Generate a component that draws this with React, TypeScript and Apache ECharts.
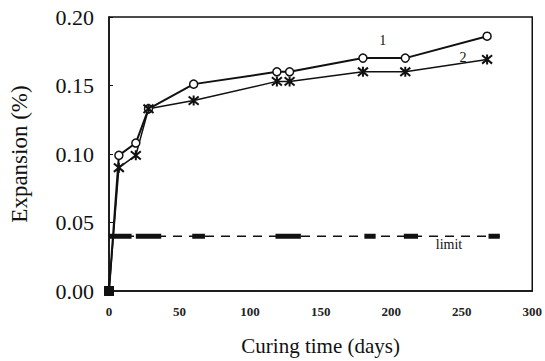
import React, { useEffect, useRef } from "react";
import * as echarts from "echarts";

const days1 = [0, 7, 19, 28, 60, 119, 128, 180, 210, 268];
const expansion1 = [0, 0.099, 0.108, 0.133, 0.151, 0.16, 0.16, 0.17, 0.17, 0.186];
const days2 = [0, 7, 19, 28, 60, 119, 128, 180, 210, 268];
const expansion2 = [0, 0.09, 0.099, 0.133, 0.139, 0.153, 0.153, 0.16, 0.16, 0.169];
const limitValue = 0.04;
const limitRange = [0, 277];
const limitThickSegments = [
  [0, 16], [19, 37], [59, 68], [118, 136], [181, 189], [209, 219], [269, 277],
];
const yTicks = [0, 0.05, 0.1, 0.15, 0.2];
const xTicks = [0, 50, 100, 150, 200, 250, 300];
const annotations = [
  { day: 194, value: 0.183, text: "1" },
  { day: 251, value: 0.171, text: "2" },
  { day: 241, value: 0.034, text: "limit" },
];

export default function App() {
  const ref = useRef<HTMLDivElement>(null);
  useEffect(() => {
    if (!ref.current) return;
    const chart = echarts.init(ref.current, undefined, { renderer: "svg" });
    const thickData: any[] = [];
    limitThickSegments.forEach((s, i) => {
      if (i > 0) thickData.push([s[0], "-"]);
      thickData.push([s[0], limitValue]);
      thickData.push([s[1], limitValue]);
    });
    const font = "Liberation Serif";
    chart.setOption({
      animation: false,
      backgroundColor: "#fff",
      grid: {
        left: 108, right: 11, top: 17, bottom: 69,
        show: true, borderColor: "#111", borderWidth: 1.5,
      },
      xAxis: {
        type: "value", min: 0, max: 300, interval: 50,
        name: "Curing time (days)", nameLocation: "middle", nameGap: 44,
        nameTextStyle: { fontFamily: font, fontSize: 21, color: "#111" },
        axisLine: { show: true, lineStyle: { color: "#111", width: 1.5 } },
        axisTick: { show: false },
        splitLine: { show: false },
        axisLabel: {
          fontFamily: font, fontSize: 13, fontWeight: "bold", color: "#222", margin: 14,
          formatter: (v: number) => (xTicks.includes(v) ? String(v) : ""),
        },
      },
      yAxis: {
        type: "value", min: 0, max: 0.2, interval: 0.05,
        name: "Expansion (%)", nameLocation: "middle", nameGap: 78,
        nameTextStyle: { fontFamily: font, fontSize: 23, color: "#111" },
        axisLine: { show: true, lineStyle: { color: "#111", width: 1.5 } },
        axisTick: { show: true, inside: true, length: 4, lineStyle: { color: "#111" } },
        splitLine: { show: false },
        axisLabel: {
          fontFamily: font, fontSize: 22, color: "#111", margin: 15,
          formatter: (v: number) => (yTicks.some((t) => Math.abs(t - v) < 1e-9) ? v.toFixed(2) : ""),
        },
      },
      series: [
        {
          type: "line",
          data: days1.map((d, i) => ({
            value: [d, expansion1[i]],
            symbol: i === 0 ? "rect" : "circle",
            symbolSize: i === 0 ? 9 : 8,
            itemStyle: i === 0 ? { color: "#111", borderColor: "#111" } : { color: "#fff", borderColor: "#111", borderWidth: 1.5 },
          })),
          lineStyle: { color: "#111", width: 2 },
          showAllSymbol: true,
          z: 3,
        },
        {
          type: "line",
          data: days2.map((d, i) => ({
            value: [d, expansion2[i]],
            symbol: i === 0 ? "rect" : "path://M-1,-1L1,1M1,-1L-1,1M0,-1.2L0,1.2",
            symbolSize: i === 0 ? 9 : 10,
            itemStyle: i === 0 ? { color: "#111", borderColor: "#111" } : { color: "none", borderColor: "#111", borderWidth: 2 },
          })),
          lineStyle: { color: "#111", width: 1.5 },
          showAllSymbol: true,
          z: 3,
        },
        {
          type: "line",
          data: limitRange.map((d) => [d, limitValue]),
          symbol: "none",
          lineStyle: { color: "#111", width: 1.5, type: [9, 7] },
          z: 2,
        },
        {
          type: "line",
          data: thickData,
          connectNulls: false,
          symbol: "none",
          lineStyle: { color: "#111", width: 5 },
          z: 2,
        },
        {
          type: "scatter",
          symbolSize: 1,
          itemStyle: { color: "#fff", opacity: 0 },
          data: annotations.map((a) => ({ value: [a.day, a.value], label: { formatter: a.text } })),
          label: {
            show: true, position: "top", distance: -8, fontFamily: font, fontSize: 14,
            color: "#111", textBorderWidth: 0, textBorderColor: "transparent", opacity: 1,
          },
          z: 4,
        },
      ],
    });
    return () => chart.dispose();
  }, []);
  return <div ref={ref} style={{ width: 545, height: 361, position: "absolute", left: 0, top: 0 }} />;
}
